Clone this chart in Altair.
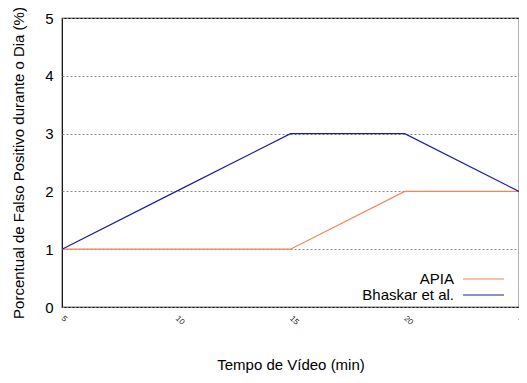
import altair as alt
import pandas as pd

minutes = [5, 10, 15, 20, 25]
apia = [1, 1, 1, 2, 2]
bhaskar = [1, 2, 3, 3, 2]
series_names = ["APIA", "Bhaskar et al."]
colors = ["#f4845a", "#1c1ca0"]
# legend row positions (pixels from top of plot area) for the gnuplot-style key
legend_rows_px = [261, 277]

rows = []
for m, a, b in zip(minutes, apia, bhaskar):
    rows.append({"t": m, "v": a, "s": series_names[0]})
    rows.append({"t": m, "v": b, "s": series_names[1]})
df = pd.DataFrame(rows)
legend_df = pd.DataFrame({"s": series_names, "ly": legend_rows_px})

FONT = "Liberation Sans"
color_scale = alt.Scale(domain=series_names, range=colors)

lines = alt.Chart(df).mark_line(strokeWidth=1.2).encode(
    x=alt.X("t:Q", scale=alt.Scale(domain=[5, 25], nice=False),
            axis=alt.Axis(title="Tempo de Vídeo (min)", values=minutes, labelAngle=45,
                          labelAlign="left", labelBaseline="middle", labelFontSize=8,
                          labelPadding=10, grid=False, ticks=False, domain=False,
                          titleFontSize=15, titleFontWeight="normal", titlePadding=31,
                          labelFont=FONT, titleFont=FONT, labelColor="#222222", titleColor="black")),
    y=alt.Y("v:Q", scale=alt.Scale(domain=[0, 5], nice=False),
            axis=alt.Axis(title="Porcentual de Falso Positivo durante o Dia (%)", values=[0, 1, 2, 3, 4, 5],
                          format="d", labelFontSize=15, labelPadding=9, grid=True,
                          gridColor="#888888", gridDash=[2, 2], gridWidth=1,
                          ticks=False, domain=False, titleFontSize=15, titleFontWeight="normal",
                          titlePadding=18, labelFont=FONT, titleFont=FONT,
                          labelColor="black", titleColor="black")),
    color=alt.Color("s:N", scale=color_scale, legend=None),
)

key_lines = alt.Chart(legend_df).mark_rule(strokeWidth=1.2).encode(
    x=alt.value(401), x2=alt.value(442),
    y=alt.Y("ly:Q", scale=None),
    color=alt.Color("s:N", scale=color_scale, legend=None),
)

key_text = alt.Chart(legend_df).mark_text(align="right", baseline="middle", fontSize=15,
                                          font=FONT, color="black").encode(
    x=alt.value(392),
    y=alt.Y("ly:Q", scale=None),
    text="s:N",
)

chart = alt.layer(lines, key_lines, key_text).properties(
    width=457, height=289,
    autosize=alt.AutoSizeParams(type="none"),
    padding={"left": 54, "top": 10, "right": 0, "bottom": 68},
).configure_view(stroke="black", strokeWidth=1.2)

chart.save("out.html", embed_options={"renderer": "svg", "actions": False})
